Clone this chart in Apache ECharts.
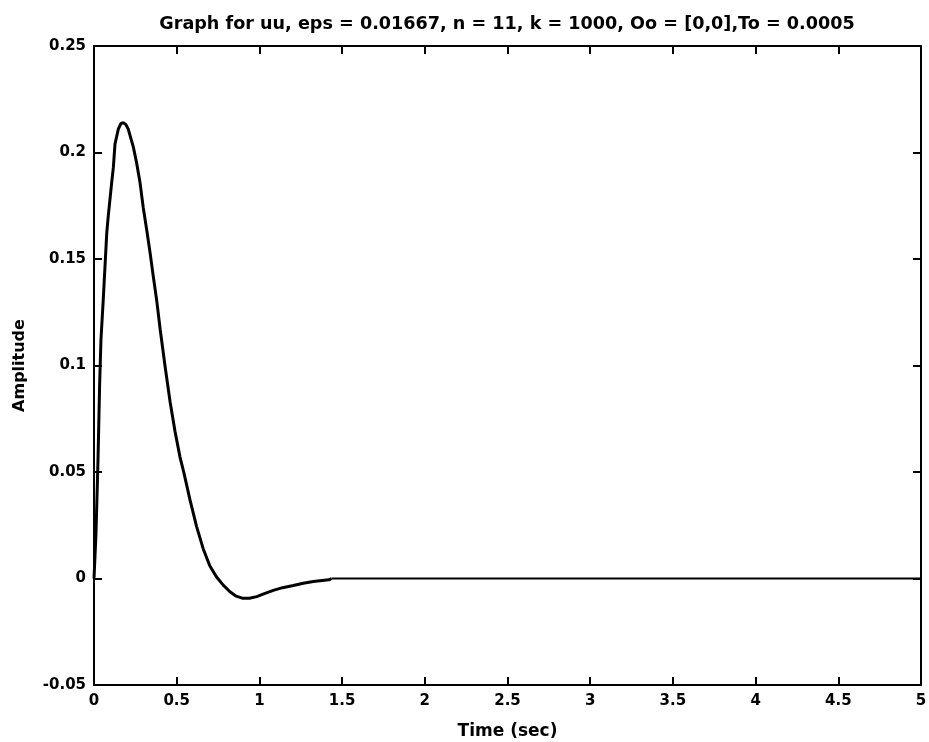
<!DOCTYPE html>
<html>
<head>
<meta charset="utf-8">
<script src="https://cdn.jsdelivr.net/npm/echarts@6/dist/echarts.min.js"></script>
<style>
html,body{margin:0;padding:0;background:#fff;}
#chart{width:929px;height:742px;}
</style>
</head>
<body>
<div id="chart"></div>
<script>
// Time (sec) and amplitude of the response
const timeMain = [0, 0.012, 0.024, 0.034, 0.042, 0.056, 0.077, 0.086, 0.107, 0.117, 0.127, 0.147, 0.162, 0.177, 0.192, 0.207, 0.238, 0.258, 0.278, 0.298, 0.319, 0.339, 0.359, 0.379, 0.400, 0.429, 0.460, 0.490, 0.520, 0.544, 0.580, 0.620, 0.660, 0.700, 0.740, 0.780, 0.822, 0.860, 0.900, 0.940, 0.984, 1.030, 1.084, 1.140, 1.205, 1.265, 1.326, 1.380, 1.420, 1.437];
const ampMain  = [0, 0.021, 0.055, 0.091, 0.112, 0.131, 0.162, 0.170, 0.186, 0.193, 0.204, 0.211, 0.2135, 0.214, 0.2132, 0.211, 0.2025, 0.195, 0.186, 0.174, 0.1635, 0.153, 0.1415, 0.1306, 0.117, 0.100, 0.083, 0.069, 0.057, 0.0495, 0.037, 0.0245, 0.0140, 0.0060, 0.0008, -0.0030, -0.0062, -0.0083, -0.0093, -0.0093, -0.0085, -0.0071, -0.0056, -0.0043, -0.0033, -0.0022, -0.0014, -0.0009, -0.0006, 0.0];
const timeTail = [1.437, 5];
const ampTail  = [0.0, 0.0];

const xTicks = [0, 0.5, 1, 1.5, 2, 2.5, 3, 3.5, 4, 4.5, 5];
const yTicks = [-0.05, 0, 0.05, 0.1, 0.15, 0.2, 0.25];

const titleText = 'Graph for uu, eps = 0.01667, n = 11, k = 1000, Oo = [0,0],To = 0.0005';
const xName = 'Time (sec)';
const yName = 'Amplitude';

const FONT = 'DejaVu Sans';
const labelStyle = {color:'#000', fontFamily:FONT, fontWeight:'bold', fontSize:15};

const chart = echarts.init(document.getElementById('chart'), null, {renderer:'canvas'});
const fmt = v => String(Math.round(v*1000)/1000);

const axisCommon = {
  axisLine:{show:true, onZero:false, lineStyle:{color:'#000', width:2}},
  axisTick:{show:true, inside:true, length:8, lineStyle:{color:'#000', width:2}},
  splitLine:{show:false}
};

chart.setOption({
  animation:false,
  backgroundColor:'#fff',
  title:{
    text:titleText, left:502, top:10, textAlign:'center',
    textStyle:{color:'#000', fontFamily:FONT, fontWeight:'bold', fontSize:17.6}
  },
  grid:{left:94, top:46, right:8, bottom:57, containLabel:false, outerBoundsMode:'none'},
  xAxis:[{
    type:'value', min:xTicks[0], max:xTicks[xTicks.length-1], interval:0.5,
    position:'bottom',
    name:xName, nameLocation:'middle', nameGap:38,
    nameTextStyle:Object.assign({}, labelStyle, {fontSize:17}),
    axisLabel:Object.assign({margin:9, formatter:fmt}, labelStyle),
    ...axisCommon
  },{
    type:'value', min:xTicks[0], max:xTicks[xTicks.length-1], interval:0.5,
    position:'top', axisLabel:{show:false}, ...axisCommon
  }],
  yAxis:[{
    type:'value', min:yTicks[0], max:yTicks[yTicks.length-1], interval:0.05,
    position:'left',
    name:yName, nameLocation:'middle', nameGap:66,
    nameTextStyle:Object.assign({}, labelStyle, {fontSize:16}),
    axisLabel:Object.assign({margin:8, formatter:fmt}, labelStyle),
    ...axisCommon
  },{
    type:'value', min:yTicks[0], max:yTicks[yTicks.length-1], interval:0.05,
    position:'right', axisLabel:{show:false}, ...axisCommon
  }],
  series:[{
    type:'line', xAxisIndex:0, yAxisIndex:0,
    data: timeMain.map((t,i)=>[t, ampMain[i]]),
    showSymbol:false, smooth:false,
    lineStyle:{color:'#000', width:3}
  },{
    type:'line', xAxisIndex:0, yAxisIndex:0,
    data: timeTail.map((t,i)=>[t, ampTail[i]]),
    showSymbol:false,
    lineStyle:{color:'#000', width:1.8}
  }]
});
</script>
</body>
</html>
